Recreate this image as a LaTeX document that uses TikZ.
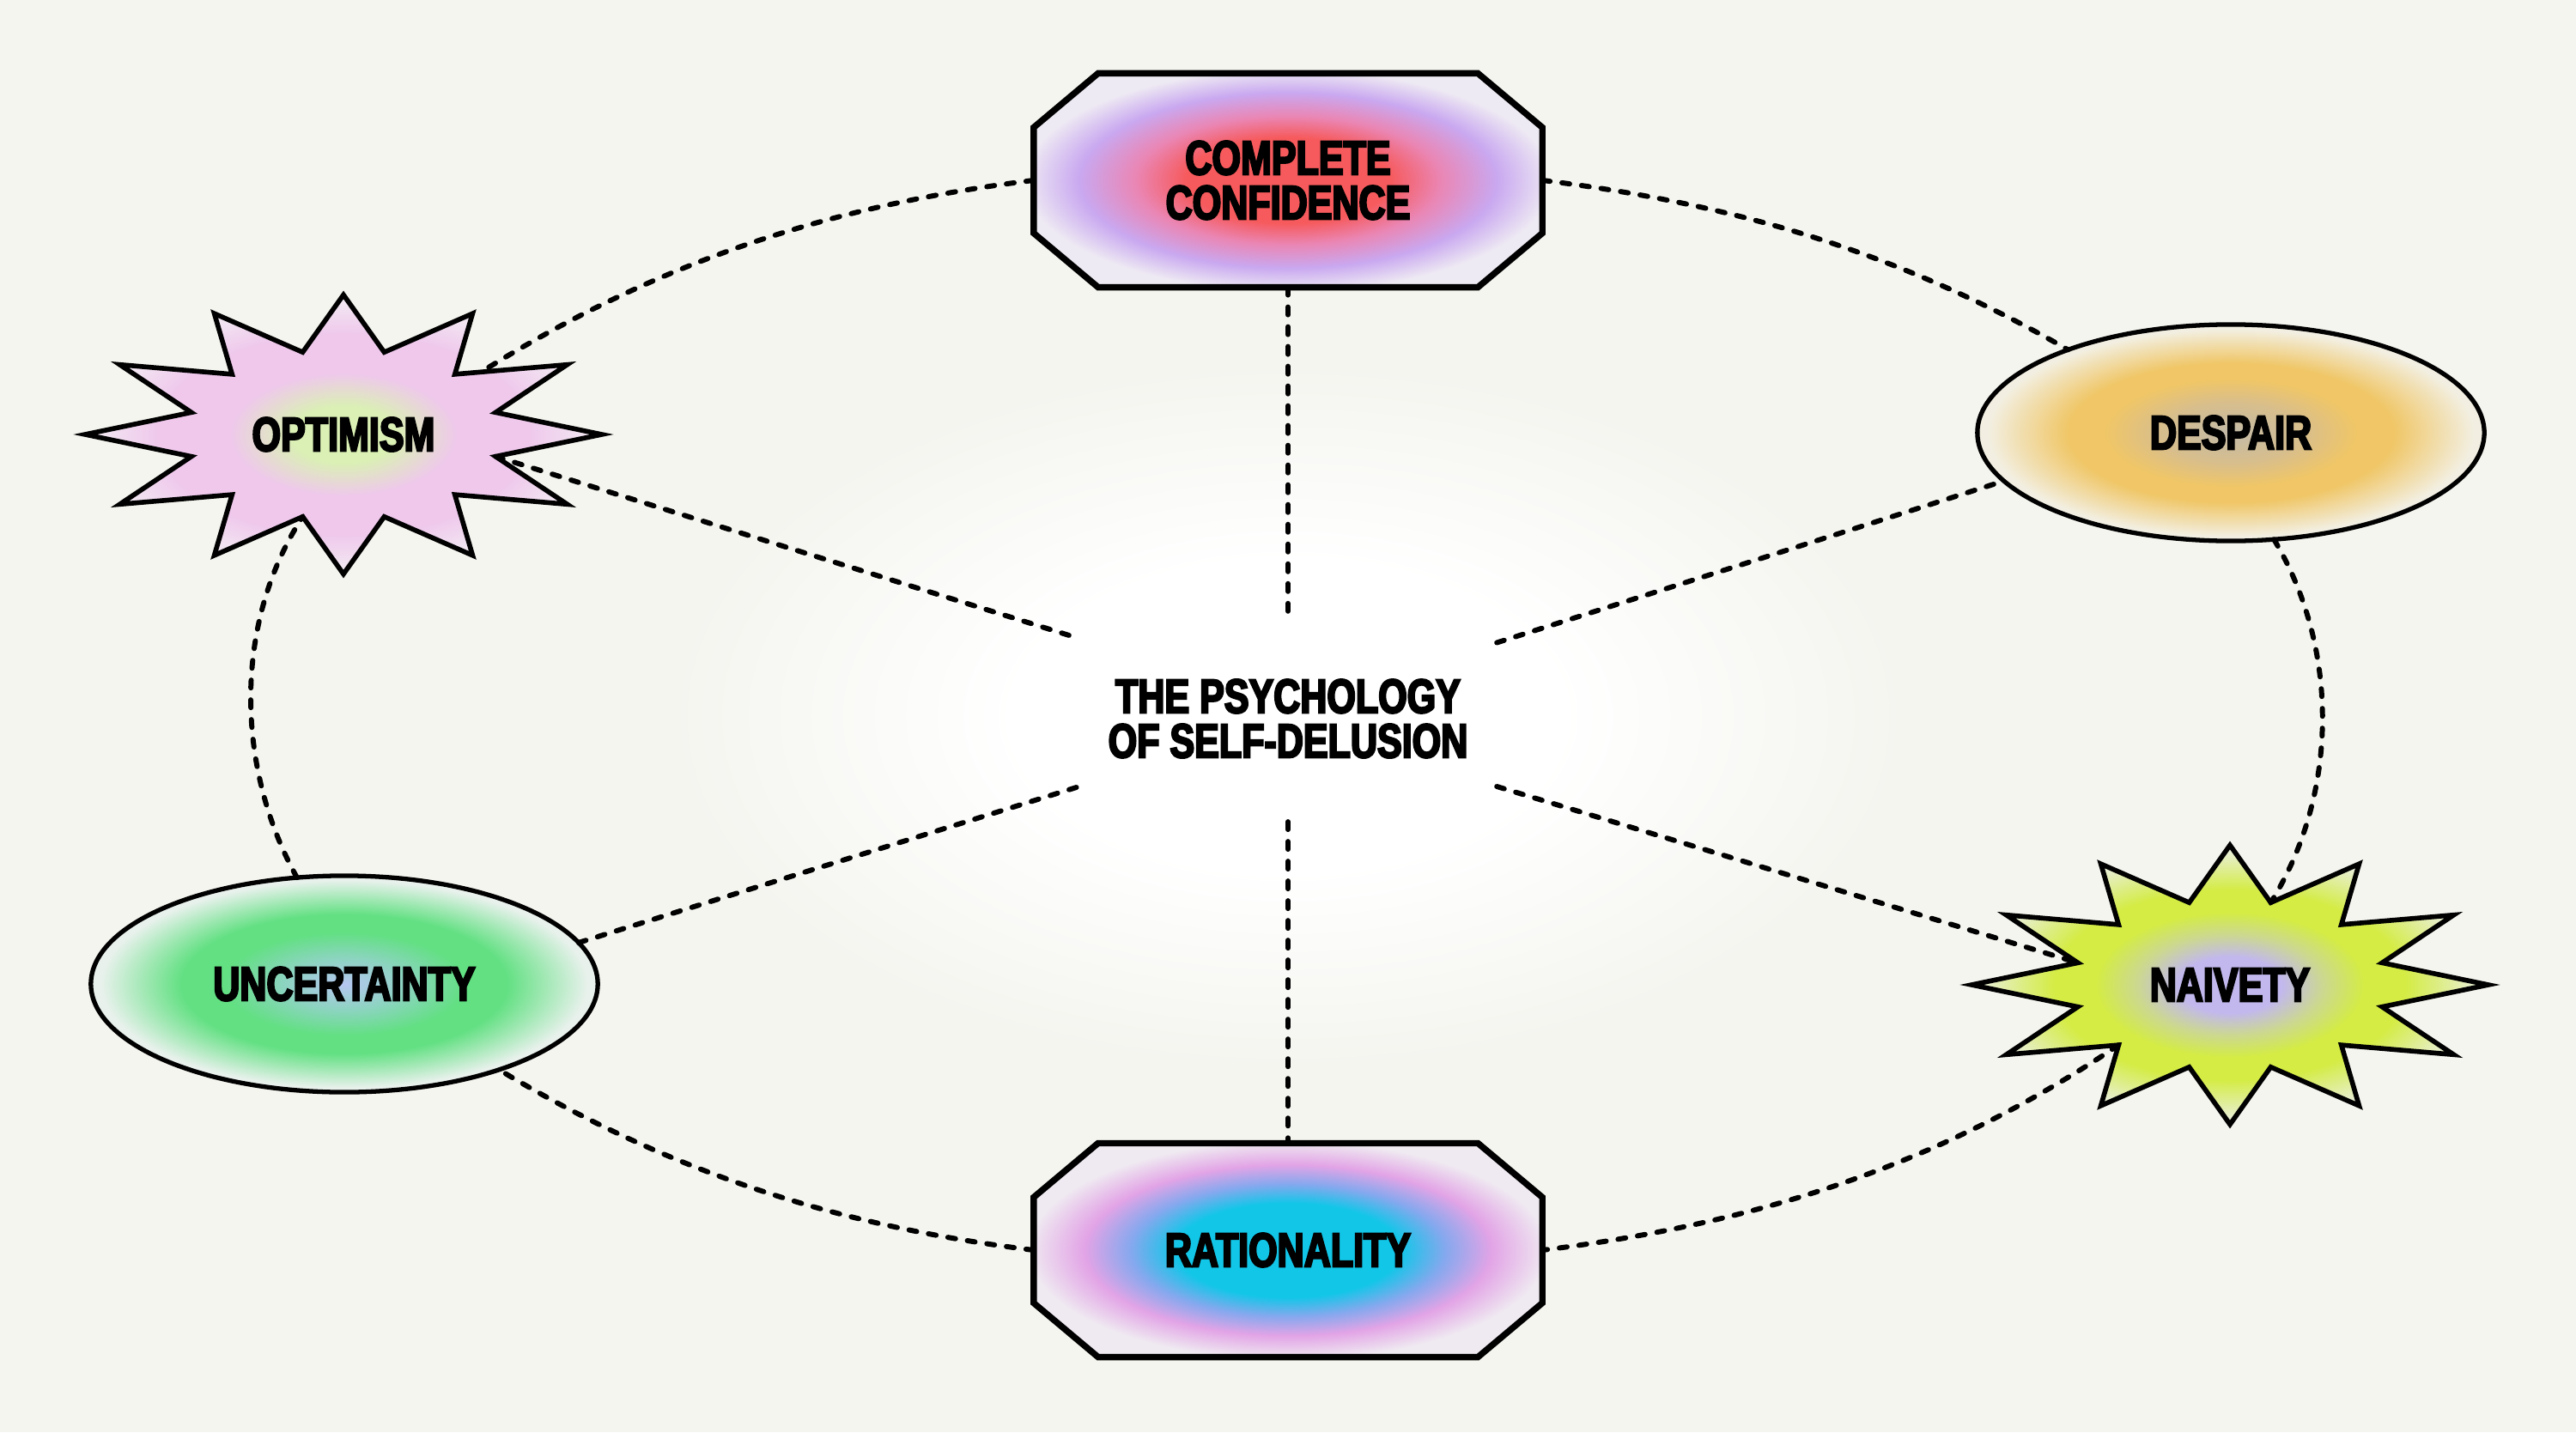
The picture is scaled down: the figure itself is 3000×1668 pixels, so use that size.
\documentclass[tikz,border=0pt]{standalone}
\usepackage{fontspec}
\usetikzlibrary{shapes.geometric,calc}
\newfontfamily\lblfont[FakeStretch=0.77,BoldFeatures={FakeBold=4}]{Liberation Sans}
\definecolor{bg}{HTML}{F4F5EF}
\definecolor{ccA}{HTML}{F65A5C}
\definecolor{ccM}{HTML}{EA86B4}
\definecolor{ccB}{HTML}{C9A8F0}
\definecolor{ccC}{HTML}{EEEAF3}
\definecolor{raA}{HTML}{12C6E8}
\definecolor{raM}{HTML}{86A8EE}
\definecolor{raB}{HTML}{E2A4E6}
\definecolor{raC}{HTML}{EFE9F1}
\definecolor{opA}{HTML}{DAF0B4}
\definecolor{opB}{HTML}{EFC8EC}
\definecolor{opC}{HTML}{F2E8F2}
\definecolor{deA}{HTML}{C2BAA8}
\definecolor{deM}{HTML}{D8BE8C}
\definecolor{deB}{HTML}{F0C666}
\definecolor{deC}{HTML}{F2EFE2}
\definecolor{unA}{HTML}{B6C6F2}
\definecolor{unM}{HTML}{8CD4C0}
\definecolor{unB}{HTML}{62E082}
\definecolor{unC}{HTML}{E8F1EC}
\definecolor{naA}{HTML}{C2B8EE}
\definecolor{naM}{HTML}{CCD890}
\definecolor{naB}{HTML}{D4EC44}
\definecolor{naC}{HTML}{E8EFD6}
\pgfdeclareradialshading{ccshade}{\pgfpoint{0bp}{0bp}}{color(0bp)=(ccA); color(10bp)=(ccA); color(15bp)=(ccM); color(20.5bp)=(ccB); color(26bp)=(ccC); color(50bp)=(ccC)}
\pgfdeclareradialshading{rashade}{\pgfpoint{0bp}{0bp}}{color(0bp)=(raA); color(11bp)=(raA); color(15.5bp)=(raM); color(20bp)=(raB); color(25.5bp)=(raC); color(50bp)=(raC)}
\pgfdeclareradialshading{opshade}{\pgfpoint{0bp}{0bp}}{color(0bp)=(opA); color(5bp)=(opA); color(11bp)=(opB); color(18bp)=(opB); color(24bp)=(opC); color(50bp)=(opC)}
\pgfdeclareradialshading{deshade}{\pgfpoint{0bp}{0bp}}{color(0bp)=(deA); color(7bp)=(deM); color(12.5bp)=(deB); color(16bp)=(deB); color(24bp)=(deC); color(50bp)=(deC)}
\pgfdeclareradialshading{unshade}{\pgfpoint{0bp}{0bp}}{color(0bp)=(unA); color(6bp)=(unM); color(12bp)=(unB); color(16bp)=(unB); color(24bp)=(unC); color(50bp)=(unC)}
\pgfdeclareradialshading{nashade}{\pgfpoint{0bp}{0bp}}{color(0bp)=(naA); color(5bp)=(naA); color(9bp)=(naM); color(13bp)=(naB); color(17bp)=(naB); color(24bp)=(naC); color(50bp)=(naC)}
\pgfdeclareradialshading{glowshade}{\pgfpoint{0bp}{0bp}}{color(0bp)=(white); color(11bp)=(white); color(25bp)=(bg); color(50bp)=(bg)}
\pgfdeclarelayer{background}
\pgfsetlayers{background,main}
\newcommand\octagonfor[2]{%
  \shadedraw[shading=#2, draw=black, line width=2.1pt, line join=miter]
    ($(#1.north west)+(75,0)$) -- ($(#1.north east)+(-75,0)$) --
    ($(#1.north east)+(0,-63)$) -- ($(#1.south east)+(0,63)$) --
    ($(#1.south east)+(-75,0)$) -- ($(#1.south west)+(75,0)$) --
    ($(#1.south west)+(0,63)$) -- ($(#1.north west)+(0,-63)$) -- cycle;}
\begin{document}
\begin{tikzpicture}[x=0.01cm,y=0.01cm,
  lbl/.style={font=\lblfont\bfseries\fontsize{15.9}{14.8}\selectfont, text=black, align=center, inner sep=0pt, outer sep=0pt},
  octbox/.style={lbl, rectangle, minimum width=5.92cm, minimum height=2.49cm},
  oval/.style={lbl, ellipse, draw=black, line width=1.5pt, minimum width=5.9cm, minimum height=2.52cm},
  burst/.style={star, star points=12, star point ratio=1.64, draw=black, line width=1.6pt, line join=miter, minimum size=3.25cm, inner sep=0pt, outer sep=0pt, xscale=1.85},
  link/.style={draw=black, line width=1.7pt, line cap=round, dash pattern=on 0.9mm off 1.4mm},
  ring/.style={link, looseness=0.9}
]
\useasboundingbox (0,0) rectangle (3000,1668);
\begin{pgfonlayer}{background}
  \fill[bg] (0,0) rectangle (3000,1668);
  \shade[shading=glowshade] (1500,834) ellipse [x radius=720, y radius=410];
\end{pgfonlayer}

% nodes
\node[octbox] (cc) at (1500,1458) {COMPLETE\\CONFIDENCE};
\node[octbox] (rat) at (1500,212) {RATIONALITY};
\node[burst, shading=opshade] (opt) at (400,1162) {};
\node[lbl] (optlbl) at (opt.center) {OPTIMISM};
\node[burst, shading=nashade] (naiv) at (2597,521) {};
\node[lbl] (naivlbl) at (naiv.center) {NAIVETY};
\node[oval, shading=deshade] (desp) at (2598,1164) {DESPAIR};
\node[oval, shading=unshade] (unc) at (401,522) {UNCERTAINTY};
\node[lbl, rectangle, minimum width=4.86cm, minimum height=2.4cm] (ctr) at (1500,831) {THE PSYCHOLOGY\\OF SELF-DELUSION};

\begin{pgfonlayer}{background}
  \octagonfor{cc}{ccshade}
  \octagonfor{rat}{rashade}
\end{pgfonlayer}

% spokes
\draw[link] (cc.south) -- (ctr.north);
\draw[link] (ctr.south) -- (rat.north);
\draw[link] (opt.345) -- (ctr.159);
\draw[link] (ctr.20) -- (desp.192);
\draw[link] (unc.10) -- (ctr.198);
\draw[link] (ctr.342) -- (naiv.165);

% outer ring
\draw[ring] (cc.west) to[out=187,in=32] (opt.40);
\draw[ring] (cc.east) to[out=-7,in=150] (desp.153);
\draw[ring] (desp.292) to[out=-59,in=58] (naiv.75);
\draw[ring] (naiv.225) to[out=214,in=7] (rat.east);
\draw[ring] (rat.west) to[out=173,in=-31] (unc.331);
\draw[ring] (unc.114) to[out=119,in=237] (opt.255);
\end{tikzpicture}
\end{document}
